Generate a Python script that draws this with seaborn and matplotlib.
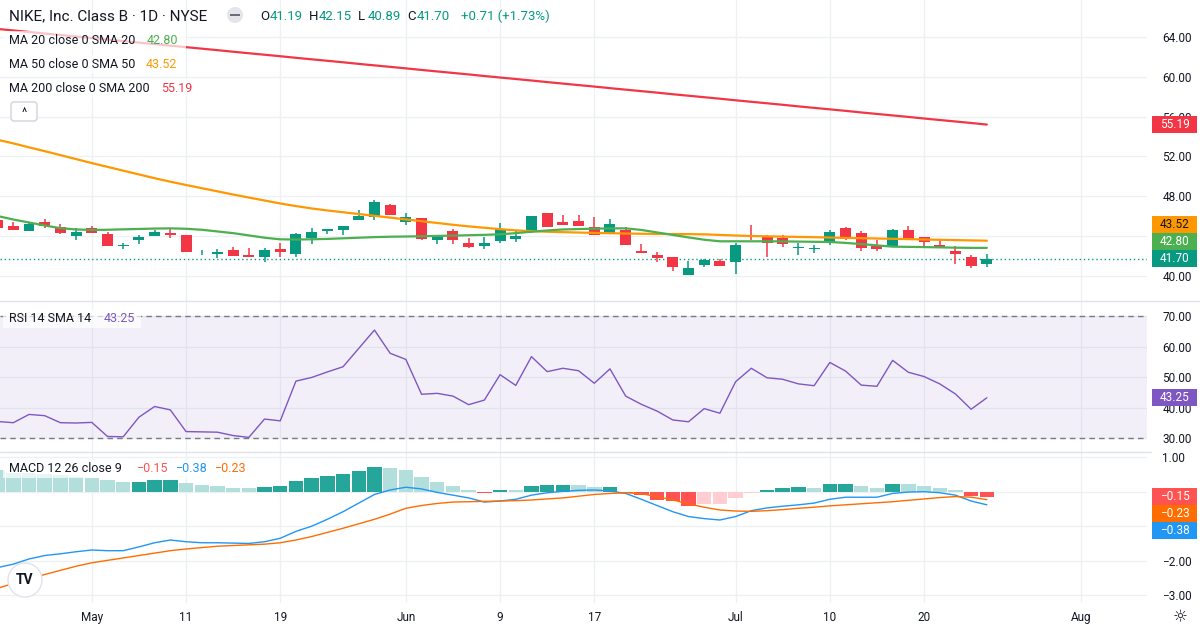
import matplotlib
matplotlib.use('Agg')
import matplotlib.pyplot as plt
from matplotlib.patches import Rectangle, Circle, FancyBboxPatch
from matplotlib.transforms import IdentityTransform
import numpy as np
import pandas as pd
import seaborn as sns

# daily OHLC, Apr 23 .. Jul 24 (trading days)
opens = [45.59, 44.99, 44.49, 45.39, 44.89, 44.02, 44.79, 44.22, 43.02, 43.62,
         44.02, 44.32, 44.09, 42.35, 42.21, 42.58, 42.08, 41.91, 42.71, 42.21,
         43.82, 44.49, 44.59, 45.59, 45.90, 47.10, 45.43, 45.80, 43.62, 44.49,
         43.28, 43.02, 43.49, 43.72, 44.49, 46.30, 45.39, 45.49, 44.89, 44.32,
         44.59, 42.48, 42.08, 41.88, 40.07, 41.07, 41.48, 41.38, 44.09, 43.89,
         43.79, 42.75, 42.65, 43.38, 44.79, 44.29, 43.08, 42.91, 44.59, 43.89,
         43.08, 42.48, 41.88, 41.19]
highs = [45.75, 45.39, 45.30, 45.69, 45.19, 44.79, 44.96, 44.39, 43.32, 44.09,
         44.59, 44.69, 44.10, 42.58, 42.65, 42.88, 42.78, 42.78, 43.28, 44.32,
         44.79, 44.69, 44.99, 46.60, 47.60, 47.20, 46.30, 45.82, 44.09, 44.69,
         43.79, 43.89, 45.29, 44.59, 46.00, 46.32, 46.10, 46.10, 45.90, 45.69,
         44.89, 43.18, 42.38, 41.90, 41.48, 41.68, 41.68, 43.28, 45.09, 44.09,
         44.09, 43.28, 43.08, 44.59, 44.89, 44.49, 43.58, 44.69, 44.99, 43.90,
         43.58, 42.98, 42.08, 42.15]
lows = [44.70, 44.55, 44.45, 44.82, 44.22, 43.58, 44.30, 43.00, 42.72, 43.22,
        44.00, 43.82, 42.40, 42.11, 41.81, 42.00, 41.86, 41.41, 41.91, 41.91,
        43.22, 44.22, 44.12, 45.59, 45.59, 46.10, 45.13, 43.59, 43.22, 43.22,
        42.81, 42.72, 43.32, 43.42, 44.32, 44.89, 45.10, 44.99, 44.09, 44.30,
        43.08, 42.28, 41.38, 40.48, 40.07, 40.88, 40.98, 40.17, 43.58, 41.88,
        42.91, 42.08, 42.28, 43.08, 43.60, 42.48, 42.48, 42.90, 43.58, 42.91,
        42.88, 41.18, 40.78, 40.89]
closes = [44.76, 44.59, 45.23, 45.03, 44.32, 44.39, 44.32, 43.02, 43.08, 43.89,
          44.39, 44.12, 42.41, 42.41, 42.38, 42.01, 41.88, 42.58, 42.41, 44.19,
          44.39, 44.69, 44.99, 45.99, 47.40, 46.13, 45.90, 43.69, 43.92, 43.62,
          42.91, 43.28, 44.69, 44.02, 45.99, 44.89, 45.13, 44.99, 44.09, 45.19,
          43.08, 42.28, 41.78, 40.88, 40.77, 41.58, 40.98, 43.08, 43.99, 43.32,
          43.22, 42.85, 42.75, 44.39, 43.69, 42.78, 42.68, 44.59, 43.69, 43.38,
          42.88, 42.18, 40.99, 41.70]

ma20 = [46.00, 45.65, 45.35, 45.05, 44.78, 44.65, 44.60, 44.62, 44.66, 44.70,
        44.74, 44.76, 44.72, 44.62, 44.45, 44.28, 44.05, 43.82, 43.66, 43.64,
        43.66, 43.70, 43.76, 43.82, 43.88, 43.92, 43.94, 43.97, 44.00, 44.03,
        44.07, 44.11, 44.16, 44.28, 44.42, 44.55, 44.65, 44.69, 44.73, 44.76,
        44.76, 44.60, 44.35, 44.10, 43.85, 43.62, 43.46, 43.46, 43.46, 43.46,
        43.45, 43.43, 43.41, 43.39, 43.30, 43.18, 43.05, 42.92, 42.90, 42.88,
        42.85, 42.82, 42.80, 42.80]
ma50 = [53.66, 53.30, 52.90, 52.52, 52.12, 51.72, 51.32, 50.94, 50.56, 50.18,
        49.80, 49.45, 49.12, 48.80, 48.48, 48.16, 47.86, 47.56, 47.26, 47.00,
        46.76, 46.56, 46.38, 46.20, 46.02, 45.84, 45.66, 45.48, 45.30, 45.12,
        44.96, 44.82, 44.68, 44.56, 44.48, 44.42, 44.38, 44.34, 44.30, 44.27,
        44.24, 44.22, 44.20, 44.19, 44.18, 44.16, 44.10, 44.04, 43.99, 43.96,
        43.93, 43.90, 43.87, 43.84, 43.80, 43.77, 43.74, 43.71, 43.68, 43.64,
        43.61, 43.58, 43.55, 43.52]
ma200 = [64.80, 64.65, 64.50, 64.34, 64.19, 64.04, 63.89, 63.73, 63.58, 63.43,
         63.28, 63.12, 62.97, 62.82, 62.67, 62.51, 62.36, 62.21, 62.06, 61.90,
         61.75, 61.60, 61.45, 61.29, 61.14, 60.99, 60.84, 60.68, 60.53, 60.38,
         60.23, 60.07, 59.92, 59.77, 59.62, 59.46, 59.31, 59.16, 59.01, 58.85,
         58.70, 58.55, 58.40, 58.24, 58.09, 57.94, 57.79, 57.63, 57.48, 57.33,
         57.18, 57.02, 56.87, 56.72, 56.57, 56.41, 56.26, 56.11, 55.96, 55.80,
         55.65, 55.50, 55.35, 55.19]

rsi = [35.5, 35.1, 37.8, 37.4, 35.1, 35.0, 35.2, 30.6, 30.5, 36.9,
       40.4, 39.3, 32.2, 32.1, 32.0, 30.9, 30.3, 36.3, 35.7, 48.7,
       49.9, 51.7, 53.4, 59.4, 65.4, 57.8, 55.8, 44.4, 44.7, 43.8,
       41.0, 42.5, 50.8, 47.3, 56.7, 51.8, 52.9, 52.1, 48.0, 52.7,
       43.8, 41.1, 38.9, 36.0, 35.4, 39.7, 38.2, 48.5, 52.9, 49.8,
       49.3, 47.8, 47.2, 54.8, 52.0, 47.4, 47.0, 55.5, 51.6, 50.2,
       47.8, 44.5, 39.5, 43.25]

macd = [-2.20, -2.10, -1.95, -1.85, -1.80, -1.74, -1.69, -1.71, -1.71, -1.60,
        -1.48, -1.40, -1.45, -1.48, -1.48, -1.49, -1.50, -1.45, -1.35, -1.15,
        -1.00, -0.80, -0.58, -0.33, -0.08, 0.05, 0.13, 0.08, -0.02, -0.10,
        -0.18, -0.30, -0.27, -0.22, -0.10, -0.03, 0.01, 0.04, 0.05, 0.02,
        -0.05, -0.22, -0.40, -0.58, -0.72, -0.78, -0.82, -0.72, -0.55, -0.47,
        -0.42, -0.38, -0.33, -0.22, -0.16, -0.16, -0.16, -0.05, -0.01, 0.00,
        -0.03, -0.10, -0.27, -0.38]
signal = [-2.80, -2.66, -2.52, -2.40, -2.28, -2.16, -2.06, -1.99, -1.92, -1.85,
          -1.78, -1.71, -1.66, -1.62, -1.58, -1.56, -1.54, -1.52, -1.48, -1.40,
          -1.30, -1.18, -1.06, -0.93, -0.80, -0.65, -0.48, -0.40, -0.34, -0.30,
          -0.29, -0.28, -0.27, -0.26, -0.24, -0.21, -0.18, -0.13, -0.08, -0.05,
          -0.03, -0.06, -0.14, -0.24, -0.35, -0.45, -0.53, -0.56, -0.57, -0.55,
          -0.52, -0.48, -0.45, -0.41, -0.38, -0.35, -0.32, -0.29, -0.25, -0.21,
          -0.17, -0.14, -0.16, -0.23]
hist = [0.63, 0.55, 0.53, 0.51, 0.48, 0.44, 0.41, 0.34, 0.28, 0.29,
        0.34, 0.35, 0.25, 0.20, 0.16, 0.11, 0.10, 0.14, 0.16, 0.31,
        0.40, 0.46, 0.52, 0.60, 0.72, 0.69, 0.63, 0.43, 0.28, 0.16,
        0.06, -0.03, 0.06, 0.05, 0.17, 0.19, 0.20, 0.19, 0.13, 0.14,
        -0.03, -0.10, -0.24, -0.26, -0.41, -0.36, -0.35, -0.18, -0.03, 0.06,
        0.12, 0.13, 0.12, 0.21, 0.23, 0.17, 0.12, 0.22, 0.21, 0.17,
        0.12, 0.04, -0.12, -0.15]

tick_pos = [6, 12, 18, 26, 32, 38, 47, 53, 59, 69]
tick_labels = ['May', '11', '19', 'Jun', '9', '17', 'Jul', '10', '20', 'Aug']
price_grid = [40, 44, 48, 52, 56, 60, 64]
price_ticks = [40, 48, 52, 56, 60, 64]      # 44.00 sits under the MA badges
rsi_ticks = [30, 40, 50, 60, 70]
macd_grid = [1, 0, -1, -2, -3]
macd_ticks = [1, 0, -2, -3]                 # -1.00 sits under the MACD badge

df = pd.DataFrame({'i': np.arange(len(closes)), 'open': opens, 'high': highs,
                   'low': lows, 'close': closes, 'ma20': ma20, 'ma50': ma50,
                   'ma200': ma200, 'rsi': rsi, 'macd': macd, 'signal': signal,
                   'hist': hist})

UP, DOWN = '#089981', '#f23645'
GRID = '#eef0f4'
TXT = '#131722'

sns.set_theme(style='white')
plt.rcParams['font.family'] = ['Roboto', 'DejaVu Sans']

W, H = 1200, 630
fig = plt.figure(figsize=(12, 6.3), dpi=100)
ident = IdentityTransform()
RIGHT = 1147


def px_axes(top, bottom):
    return fig.add_axes([0, 1 - bottom / H, RIGHT / W, (bottom - top) / H])


panels = {'p': (0, 301, (37.46, 67.71)),
          'r': (301, 452, (25.52, 74.9)),
          'm': (452, 603, (-3.226, 1.151))}
ax_p = px_axes(0, 301)
ax_r = px_axes(301, 452)
ax_m = px_axes(452, 603)


def fmt(v):
    return f'{v:.2f}'.replace('-', '\u2212')


for ax, key, grid, ticks in [(ax_p, 'p', price_grid, price_ticks),
                             (ax_r, 'r', rsi_ticks, rsi_ticks),
                             (ax_m, 'm', macd_grid, macd_ticks)]:
    ax.set_xlim(0.153, 73.2)
    ax.set_ylim(*panels[key][2])
    for s in ax.spines.values():
        s.set_visible(False)
    for t in tick_pos:
        ax.axvline(t, color=GRID, lw=1, zorder=0)
    for t in grid:
        ax.axhline(t, color=GRID, lw=1, zorder=0)
    ax.yaxis.tick_right()
    ax.set_yticks(ticks)
    ax.set_yticklabels([fmt(t) for t in ticks])
    ax.tick_params(axis='y', length=0, pad=11, labelsize=8.5, labelcolor=TXT)
    ax.set_xticks([])

# --- price panel
up = df['close'] >= df['open']
body_lo = np.minimum(df['open'], df['close'])
body_h = np.maximum((df['close'] - df['open']).abs(), 0.04)
cols = np.where(up, UP, DOWN)
ax_p.vlines(df['i'], df['low'], df['high'], colors=cols, lw=1.1, zorder=3)
ax_p.bar(df['i'], body_h, bottom=body_lo, width=0.7, color=cols, lw=0, zorder=4)
sns.lineplot(data=df, x='i', y='ma200', ax=ax_p, color='#f23645', lw=1.6, zorder=5)
sns.lineplot(data=df, x='i', y='ma50', ax=ax_p, color='#ff9800', lw=1.6, zorder=5)
sns.lineplot(data=df, x='i', y='ma20', ax=ax_p, color='#4caf50', lw=1.6, zorder=5)
ax_p.axhline(closes[-1], color=UP, lw=1, ls=(0, (1, 2)), zorder=2)

# --- RSI panel
ax_r.axhspan(30, 70, color='#7e57c2', alpha=0.09, lw=0, zorder=0)
for lvl in (30, 70):
    ax_r.axhline(lvl, color='#787b86', lw=1, ls=(0, (4, 3)), zorder=1)
sns.lineplot(data=df, x='i', y='rsi', ax=ax_r, color='#7e57c2', lw=1, zorder=3)

# --- MACD panel
prev = np.r_[hist[0], hist[:-1]]
h = np.array(hist)
hcols = np.where(h >= 0, np.where(h > prev, '#26a69a', '#b2dfdb'),
                 np.where(h < prev, '#ff5252', '#ffcdd2'))
ax_m.bar(df['i'], h, width=0.92, color=hcols, lw=0, zorder=2)
sns.lineplot(data=df, x='i', y='macd', ax=ax_m, color='#2196f3', lw=1, zorder=3)
sns.lineplot(data=df, x='i', y='signal', ax=ax_m, color='#ff6d00', lw=1, zorder=3)

ax_m.set_xticks(tick_pos)
ax_m.set_xticklabels(tick_labels)
ax_m.tick_params(axis='x', length=0, pad=6, labelsize=8.5, labelcolor=TXT)
for ax in (ax_p, ax_r, ax_m):
    ax.set_xlabel('')
    ax.set_ylabel('')

# panel separators
fig.add_artist(plt.Line2D([0, W], [H - 301, H - 301], color='#e0e3eb', lw=1, transform=ident))
fig.add_artist(plt.Line2D([0, 1151], [H - 452, H - 452], color='#e0e3eb', lw=1, transform=ident))


def ftext(x, y, s, **kw):
    kw.setdefault('fontsize', 9)
    kw.setdefault('color', TXT)
    kw.setdefault('va', 'center')
    return fig.text(x / W, 1 - y / H, s, zorder=6, **kw)


def wash(x0, y0, x1, y1, alpha=0.7):
    fig.add_artist(Rectangle((x0, H - y1), x1 - x0, y1 - y0, transform=ident,
                             fc='white', ec='none', alpha=alpha, zorder=4))


def val_to_py(key, v):
    top, bot, (lo, hi) = panels[key]
    return top + (hi - v) / (hi - lo) * (bot - top)


def badges(key, items, upward):
    ys = [(val_to_py(key, v), txt, fc, tc) for v, txt, fc, tc in items]
    ys.sort(key=lambda t: -t[0] if upward else t[0])
    out, last = [], None
    for y, txt, fc, tc in ys:
        if last is not None:
            y = min(y, last - 17) if upward else max(y, last + 17)
        out.append((y, txt, fc, tc))
        last = y
    for y, txt, fc, tc in out:
        fig.add_artist(Rectangle((1152, H - y - 8.5), 45, 17, transform=ident,
                                 fc=fc, ec='none', zorder=5))
        ftext(1175, y, txt, ha='center', fontsize=8.5, color=tc)


badges('p', [(ma200[-1], fmt(ma200[-1]), '#f23645', 'white'),
             (ma50[-1], fmt(ma50[-1]), '#ff9800', TXT),
             (ma20[-1], fmt(ma20[-1]), '#4caf50', 'white'),
             (closes[-1], fmt(closes[-1]), UP, 'white')], upward=True)
badges('r', [(rsi[-1], fmt(rsi[-1]), '#7e57c2', 'white')], upward=True)
m_items = [(hist[-1], '#ff5252'), (signal[-1], '#ff6d00'), (macd[-1], '#2196f3')]
badges('m', [(v, fmt(v), c, 'white') for v, c in m_items], upward=False)

# header
ftext(9, 16, 'NIKE, Inc. Class B \u00b7 1D \u00b7 NYSE', fontsize=11)
fig.add_artist(Circle((235, H - 15), 8, transform=ident, fc='#e3e5ea', ec='none', zorder=5))
fig.add_artist(Rectangle((230, H - 16.2), 10, 2.4, transform=ident, fc='#6a6d78', ec='none', zorder=6))
chg = closes[-1] - closes[-2]
x = 260
for lab, val in [('O', opens[-1]), ('H', highs[-1]), ('L', lows[-1]), ('C', closes[-1])]:
    ftext(x, 16, lab, fontsize=9.5)
    ftext(x + 10, 16, f'{val:.2f}', fontsize=9.5, color=UP)
    x += 49
ftext(461, 16, f'+{chg:.2f} (+{chg / closes[-2] * 100:.2f}%)', fontsize=9.5, color=UP)

# MA legends
wash(3, 31, 186, 49)
wash(3, 55, 186, 73)
wash(3, 79, 200, 97)
ftext(9, 40, 'MA 20 close 0 SMA 20')
ftext(147, 40, fmt(ma20[-1]), color='#4caf50')
ftext(9, 64, 'MA 50 close 0 SMA 50')
ftext(146, 64, fmt(ma50[-1]), color='#ff9800')
ftext(9, 88, 'MA 200 close 0 SMA 200')
ftext(161, 88, fmt(ma200[-1]), color='#f23645')
fig.add_artist(FancyBboxPatch((11, H - 121), 26, 19, boxstyle='round,pad=0,rounding_size=3',
                              transform=ident, fc='white', ec='#d1d4dc', lw=1, zorder=5))
ftext(24, 113, '^', ha='center', fontsize=9)

# RSI / MACD legends
wash(3, 309, 141, 328)
ftext(9, 318, 'RSI 14 SMA 14')
ftext(104, 318, fmt(rsi[-1]), color='#7e57c2')
wash(3, 460, 250, 478)
ftext(9, 469, 'MACD 12 26 close 9')
ftext(137, 469, fmt(hist[-1]), color='#ff5252')
ftext(176, 469, fmt(macd[-1]), color='#2196f3')
ftext(215, 469, fmt(signal[-1]), color='#ff6d00')

# logo and settings icon
fig.add_artist(Circle((25, H - 580), 17, transform=ident, fc='white', ec='#e0e3eb', lw=1, zorder=5))
ftext(25, 580, 'TV', ha='center', fontsize=10, fontweight='bold')
ftext(1180, 617, '\u263c', ha='center', fontsize=12, family=['DejaVu Sans'])

fig.savefig('out.png', dpi=100, facecolor='white')
